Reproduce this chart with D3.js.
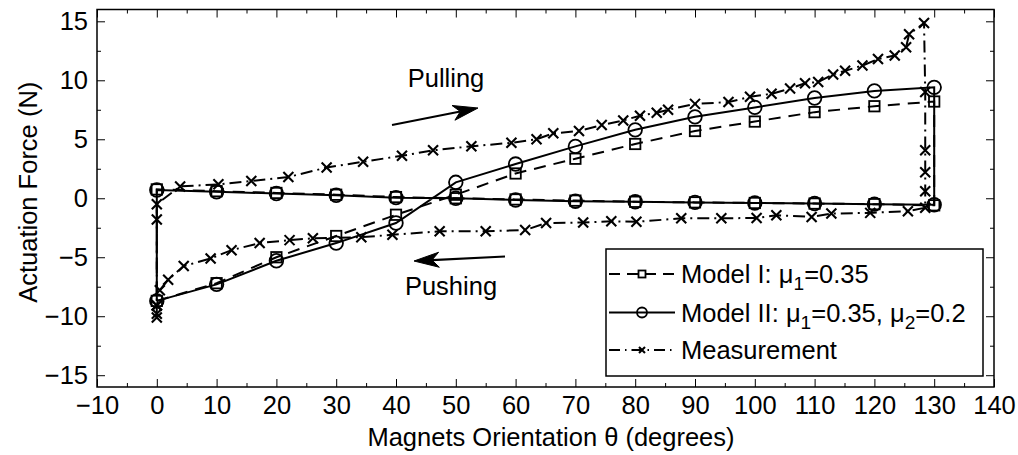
<!DOCTYPE html>
<html>
<head>
<meta charset="utf-8">
<script src="https://cdn.jsdelivr.net/npm/d3@7"></script>
<style>
  html, body { margin: 0; padding: 0; background: #fff; }
  svg { display: block; font-family: "Liberation Sans", Arial, Helvetica, sans-serif; }
  text { fill: #000; }
</style>
</head>
<body>
<svg id="chart" width="1018" height="455"></svg>
<script>
// Magnet orientation sample points for the two friction models (degrees)
const modelTheta = [0, 10, 20, 30, 40, 50, 60, 70, 80, 90, 100, 110, 120, 130];

// Model I (mu1 = 0.35): pulling stroke and return (pushing) stroke, in N
const modelIPull = [-8.7, -7.2, -5.0, -3.2, -1.4, 0.3, 2.1, 3.35, 4.6, 5.7, 6.5, 7.3, 7.8, 8.2];
const modelIPush = [0.75, 0.6, 0.45, 0.3, 0.1, 0.0, -0.1, -0.2, -0.3, -0.35, -0.4, -0.45, -0.5, -0.6];

// Model II (mu1 = 0.35, mu2 = 0.2)
const modelIIPull = [-8.7, -7.3, -5.3, -3.8, -2.1, 1.35, 2.9, 4.4, 5.8, 6.9, 7.7, 8.5, 9.1, 9.4];
const modelIIPush = [0.7, 0.55, 0.4, 0.25, 0.05, 0.0, -0.15, -0.25, -0.3, -0.35, -0.4, -0.45, -0.5, -0.55];

// Measured hysteresis loop, in acquisition order
const measTheta = [0, 0, 0, 0, 0, 3.9, 10.3, 15.8, 22, 28.4, 34.5, 41, 46.2, 52.6, 59.3, 63.5, 66.3, 70.6,
  74.4, 78, 80.8, 83.6, 85.5, 90, 95.6, 99.2, 102.8, 105.9, 108.4, 110.6, 113.1, 115.1, 118, 120.6, 123.4,
  125.3, 125.8, 128.3, 128.5, 128.5, 128.5, 128.5, 128.5, 125.6, 119.3, 112.8, 109.5, 103.6, 100.3, 94.4,
  87.7, 80.2, 76, 71.3, 65.1, 61.6, 55, 47.3, 39.4, 34.2, 26.1, 22.2, 17.2, 12.5, 9.0, 4.5, 1.9, 0.5, 0];
const measForce = [-10.1, -9.8, -9.1, -1.8, -0.5, 1.0, 1.18, 1.46, 1.8, 2.6, 3.1, 3.6, 4.06, 4.4, 4.7, 5.0, 5.5, 5.7,
  6.2, 6.6, 7.0, 7.25, 7.5, 8.0, 8.15, 8.6, 8.85, 9.3, 9.75, 9.85, 10.5, 10.8, 11.25, 11.8, 12.1,
  12.8, 13.9, 14.85, 9.0, 4.06, 2.2, 0.6, -0.8, -1.1, -1.24, -1.3, -1.58, -1.44, -1.67, -1.7,
  -1.7, -2.0, -1.95, -2.06, -2.1, -2.7, -2.8, -2.8, -3.1, -3.3, -3.4, -3.55, -3.8, -4.4, -5.1, -5.75, -6.9, -7.8, -9.1];

// Axis ticks
const xTicks = d3.range(-10, 141, 10);
const xMinor = d3.range(-5, 141, 10);
const yTicks = [-15, -10, -5, 0, 5, 10, 15];
const yMinor = [-12.5, -7.5, -2.5, 2.5, 7.5, 12.5];

const legendLabels = [
  ["Model I: ", "μ", "1", "=0.35"],
  ["Model II: ", "μ", "1", "=0.35, ", "μ", "2", "=0.2"],
  ["Measurement"]
];

const svg = d3.select("#chart");
const m = { left: 97, right: 994, top: 9.5, bottom: 387 };
const x = d3.scaleLinear().domain([-10, 140]).range([m.left, m.right]);
const y = d3.scaleLinear().domain([-16, 16]).range([m.bottom, m.top]);
const FS = 25.5;

// Ticks on all four sides, pointing inward
function tickAxis(axis, tr, size, vals, labels) {
  const g = svg.append("g").attr("transform", tr)
    .call(axis.tickValues(vals).tickSize(size).tickPadding(9)
      .tickFormat(labels ? d3.format("") : () => ""));
  g.select(".domain").remove();
  g.selectAll(".tick line").attr("stroke", "#000").attr("stroke-width", 1);
  g.selectAll("text").attr("font-size", FS).attr("font-family", "Liberation Sans, Arial, sans-serif").attr("fill", "#000");
  return g;
}
tickAxis(d3.axisBottom(x), `translate(0,${m.bottom})`, -8, xTicks, true);
tickAxis(d3.axisBottom(x), `translate(0,${m.bottom})`, -4, xMinor, false);
tickAxis(d3.axisTop(x), `translate(0,${m.top})`, -8, xTicks, false);
tickAxis(d3.axisTop(x), `translate(0,${m.top})`, -4, xMinor, false);
tickAxis(d3.axisLeft(y), `translate(${m.left},0)`, -8, yTicks, true);
tickAxis(d3.axisLeft(y), `translate(${m.left},0)`, -4, yMinor, false);
tickAxis(d3.axisRight(y), `translate(${m.right},0)`, -8, yTicks, false);
tickAxis(d3.axisRight(y), `translate(${m.right},0)`, -4, yMinor, false);

svg.append("rect")
  .attr("x", m.left).attr("y", m.top)
  .attr("width", m.right - m.left).attr("height", m.bottom - m.top)
  .attr("fill", "none").attr("stroke", "#000").attr("stroke-width", 1.5);

// Axis titles
svg.append("text")
  .attr("x", 551).attr("y", 446)
  .attr("text-anchor", "middle").attr("font-size", FS)
  .text("Magnets Orientation θ (degrees)");
svg.append("text")
  .attr("transform", `translate(37,${y(0) - 6}) rotate(-90)`)
  .attr("text-anchor", "middle").attr("font-size", FS)
  .text("Actuation Force (N)");

// Marker shapes
function drawMarker(g, kind, cx, cy, s) {
  if (kind === "square") {
    g.append("rect").attr("x", cx - s).attr("y", cy - s).attr("width", 2 * s).attr("height", 2 * s)
      .attr("fill", "none").attr("stroke", "#000").attr("stroke-width", 1.8);
  } else if (kind === "circle") {
    g.append("circle").attr("cx", cx).attr("cy", cy).attr("r", s)
      .attr("fill", "none").attr("stroke", "#000").attr("stroke-width", 1.8);
  } else {
    g.append("path").attr("d", `M${cx - s},${cy - s}L${cx + s},${cy + s}M${cx - s},${cy + s}L${cx + s},${cy - s}`)
      .attr("fill", "none").attr("stroke", "#000").attr("stroke-width", 2.1);
  }
}

const line = d3.line().x(d => x(d[0])).y(d => y(d[1]));
const plot = svg.append("g");

function loopPoints(pull, push) {
  const pts = modelTheta.map((t, i) => [t, pull[i]]);
  const back = modelTheta.map((t, i) => [t, push[i]]).reverse();
  return pts.concat(back);
}

const series = [
  { pts: loopPoints(modelIPull, modelIPush), closed: true, dash: "12,8", marker: "square", size: 5.2 },
  { pts: loopPoints(modelIIPull, modelIIPush), closed: true, dash: null, marker: "circle", size: 6.8 },
  { pts: measTheta.map((t, i) => [t, measForce[i]]), closed: false, dash: "12,5,2,5", marker: "x", size: 5 }
];

series.forEach(s => {
  const path = s.closed ? s.pts.concat([s.pts[0]]) : s.pts;
  plot.append("path").attr("d", line(path))
    .attr("fill", "none").attr("stroke", "#000").attr("stroke-width", 2)
    .attr("stroke-dasharray", s.dash);
  const mg = plot.append("g");
  s.pts.forEach(p => drawMarker(mg, s.marker, x(p[0]), y(p[1]), s.size));
});

// Direction arrows
function arrow(x1, y1, x2, y2) {
  const a = Math.atan2(y2 - y1, x2 - x1);
  const L = 25, W = 7.5, back = 18;
  const bx = x2 - L * Math.cos(a), by = y2 - L * Math.sin(a);
  const nx = -Math.sin(a), ny = Math.cos(a);
  const cx = x2 - back * Math.cos(a), cy = y2 - back * Math.sin(a);
  svg.append("line").attr("x1", x1).attr("y1", y1).attr("x2", cx).attr("y2", cy)
    .attr("stroke", "#000").attr("stroke-width", 2.2);
  svg.append("path")
    .attr("d", `M${x2},${y2}L${bx + W * nx},${by + W * ny}L${cx},${cy}L${bx - W * nx},${by - W * ny}Z`)
    .attr("fill", "#000").attr("stroke", "#000").attr("stroke-width", 1);
}
arrow(392, 125, 478, 108);
arrow(505, 256.5, 414, 261);

svg.append("text").attr("x", 446).attr("y", 87).attr("text-anchor", "middle").attr("font-size", FS).text("Pulling");
svg.append("text").attr("x", 451).attr("y", 295).attr("text-anchor", "middle").attr("font-size", FS).text("Pushing");

// Legend
const lg = svg.append("g");
lg.append("rect").attr("x", 606).attr("y", 249).attr("width", 377).attr("height", 127)
  .attr("fill", "#fff").attr("stroke", "#000").attr("stroke-width", 1.5);
const rowY = [274, 312.5, 350];
const legendStyles = [
  { dash: "11,7", marker: "square", size: 3.5 },
  { dash: null, marker: "circle", size: 5 },
  { dash: "11,5,1.5,5", marker: "x", size: 3 }
];
legendStyles.forEach((st, i) => {
  lg.append("line").attr("x1", 609).attr("x2", 675).attr("y1", rowY[i]).attr("y2", rowY[i])
    .attr("stroke", "#000").attr("stroke-width", 1.8).attr("stroke-dasharray", st.dash);
  drawMarker(lg, st.marker, 642, rowY[i], st.size);
  const t = lg.append("text").attr("x", 681).attr("y", rowY[i] + 9).attr("font-size", FS);
  const parts = legendLabels[i];
  parts.forEach((p, k) => {
    const isSub = (k > 0 && parts[k - 1] === "μ");
    const ts = t.append("tspan").text(p);
    if (isSub) ts.attr("dy", 7).attr("font-size", FS * 0.75);
    else if (k > 0 && parts[k - 2] === "μ") ts.attr("dy", -7);
  });
});
</script>
</body>
</html>
